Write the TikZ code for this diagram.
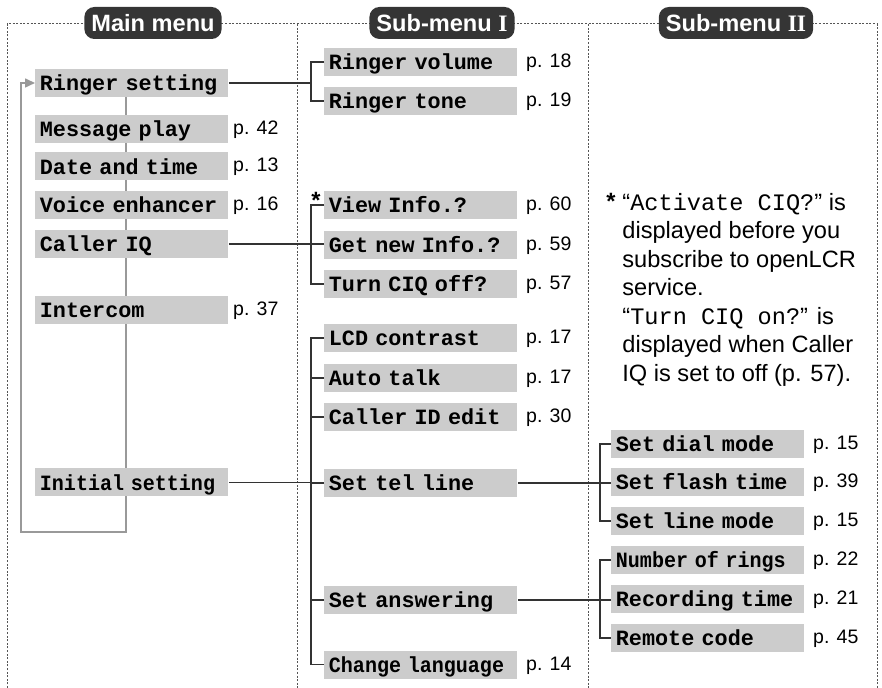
\documentclass[tikz,border=0pt]{standalone}
\usepackage{fontspec}
\setmainfont{Liberation Sans}
\setmonofont{Liberation Mono}
\newfontfamily\romnum{Liberation Serif}
\usetikzlibrary{arrows.meta, positioning, backgrounds}
\definecolor{BoxGray}{HTML}{CCCCCC}
\definecolor{LoopGray}{HTML}{999999}
\definecolor{LinkDark}{HTML}{333333}
\definecolor{PillDark}{HTML}{353535}
\definecolor{FrameGray}{HTML}{555555}
\newcommand{\cond}[1]{\scalebox{0.92}[1]{#1}}
\newcommand{\menufont}{\fontsize{10.9}{12}\selectfont\ttfamily\bfseries
  \setlength{\spaceskip}{0.6em}}

\begin{document}
\begin{tikzpicture}[x=0.5pt, y=-0.5pt,
  item/.style={fill=BoxGray, anchor=west, minimum height=14pt,
               inner ysep=0pt, inner xsep=2.25pt, text width=92pt,
               text height=10.85pt, text depth=3.15pt, align=left,
               font=\menufont},
  pg/.style={anchor=west, inner sep=0pt, text height=6.5pt, text depth=1pt,
             font=\fontsize{9.75}{11}\selectfont},
  pill/.style={fill=PillDark, text=white, rounded corners=5pt,
               minimum height=16pt, inner xsep=3.5pt, inner ysep=0pt,
               text height=9.5pt, text depth=1pt,
               font=\fontsize{11.8}{13}\selectfont\bfseries},
  note/.style={align=left, inner sep=0pt,
               font=\fontsize{11.8}{14.25}\selectfont},
  star/.style={inner sep=0pt, font=\fontsize{11.8}{13}\selectfont\bfseries},
  link/.style={draw=LinkDark, line width=0.75pt},
  loopline/.style={draw=LoopGray, line width=0.8pt},
  frame/.style={draw=FrameGray, line width=0.5pt, dash pattern=on 1pt off 0.8pt},
]
\useasboundingbox (0,0) rectangle (882,688);

% column frames
\draw[frame] (7,688) -- (7,24) -- (877,24) -- (877,688);
\draw[frame] (297,24) -- (297,688);
\draw[frame] (588,24) -- (588,688);

\node[pill] (hmain) at (153,23) {Main menu};
\node[pill] (hsubI) at (442,23) {Sub-menu {\romnum I}};
\node[pill] (hsubII) at (736,23) {Sub-menu {\romnum II}};

% main menu
\node[item] (ringer)   at (35,83)    {Ringer setting};
\node[item] (msgplay)  at (35,129)   {Message play};
\node[item] (datetime) at (35,166.5) {Date and time};
\node[item] (voice)    at (35,205)   {Voice enhancer};
\node[item] (calleriq) at (35,244)   {Caller IQ};
\node[item] (intercom) at (35,310)   {Intercom};
\node[item] (initial)  at (35,482.5) {\cond{Initial setting}};
\node[pg, right=2pt of msgplay]  (pmsg)   {p. 42};
\node[pg, right=2pt of datetime] (pdate)  {p. 13};
\node[pg, right=2pt of voice]    (pvoice) {p. 16};
\node[pg, right=2pt of intercom] (pinter) {p. 37};

% sub-menu I
\node[item] (rvol)      at (324,62)    {Ringer volume};
\node[item] (rtone)     at (324,101)   {Ringer tone};
\node[item] (viewinfo)  at (324,205)   {View Info.?};
\node[item] (getinfo)   at (324,245)   {Get new Info.?};
\node[item] (turnoff)   at (324,284)   {Turn CIQ off?};
\node[item] (lcd)       at (324,338)   {LCD contrast};
\node[item] (autotalk)  at (324,378)   {Auto talk};
\node[item] (cidedit)   at (324,417)   {Caller ID edit};
\node[item] (telline)   at (324,483)   {Set tel line};
\node[item] (answering) at (324,600)   {Set answering};
\node[item] (language)  at (324,664.5) {\cond{Change language}};
\node[pg, right=4pt of rvol]     (prvol)  {p. 18};
\node[pg, right=4pt of rtone]    (prtone) {p. 19};
\node[pg, right=4pt of viewinfo] (pview)  {p. 60};
\node[pg, right=4pt of getinfo]  (pget)   {p. 59};
\node[pg, right=4pt of turnoff]  (pturn)  {p. 57};
\node[pg, right=4pt of lcd]      (plcd)   {p. 17};
\node[pg, right=4pt of autotalk] (pauto)  {p. 17};
\node[pg, right=4pt of cidedit]  (pcid)   {p. 30};
\node[pg, right=4pt of language] (plang)  {p. 14};
\node[star] (astI) at (316,200) {*};

% sub-menu II
\node[item] (dialmode)  at (611,444) {Set dial mode};
\node[item] (flashtime) at (611,482) {Set flash time};
\node[item] (linemode)  at (611,521) {Set line mode};
\node[item] (rings)     at (611,560) {\cond{Number of rings}};
\node[item] (rectime)   at (611,599) {Recording time};
\node[item] (remote)    at (611,638) {Remote code};
\node[pg, right=4pt of dialmode]  (pdial)  {p. 15};
\node[pg, right=4pt of flashtime] (pflash) {p. 39};
\node[pg, right=4pt of linemode]  (pline)  {p. 15};
\node[pg, right=4pt of rings]     (prings) {p. 22};
\node[pg, right=4pt of rectime]   (prec)   {p. 21};
\node[pg, right=4pt of remote]    (prem)   {p. 45};

% footnote
\node[star] (astII) at (611,201) {*};
\node[note, anchor=north west] (note) at (622,193)
  {“\texttt{Activate CIQ?}” is\\displayed before you\\subscribe to openLCR\\service.\\
   “\texttt{Turn CIQ on?}” is\\displayed when Caller\\IQ is set to off (p. 57).};

% connectors
\coordinate (brI) at (311,0);
\coordinate (brII) at (600,0);
\coordinate (loopr) at (126,532);
\coordinate (loopl) at (21,532);
\begin{scope}[on background layer]
  \draw[loopline, -{Triangle[length=5pt,width=4.5pt]}]
    (ringer.south -| loopr) -- (loopr) -- (loopl) |- (ringer.west);
\end{scope}
\draw[link] (ringer.east) -- (ringer.east -| brI);
\draw[link] (rvol.west) -- (rvol -| brI) |- (rtone.west);
\draw[link] (calleriq.east) -- (calleriq.east -| getinfo.west);
\draw[link] (viewinfo.west) -- (viewinfo -| brI) |- (turnoff.west);
\draw[link] (initial.east) -- (initial.east -| telline.west);
\draw[link] (lcd.west) -- (lcd -| brI) |- (language.west);
\foreach \n in {autotalk,cidedit,telline,answering}
  \draw[link] (\n.west) -- (\n -| brI);
\draw[link] (telline.east) -- (telline.east -| flashtime.west);
\draw[link] (dialmode.west) -- (dialmode -| brII) |- (linemode.west);
\draw[link] (answering.east) -- (answering.east -| rectime.west);
\draw[link] (rings.west) -- (rings -| brII) |- (remote.west);
\end{tikzpicture}
\end{document}
